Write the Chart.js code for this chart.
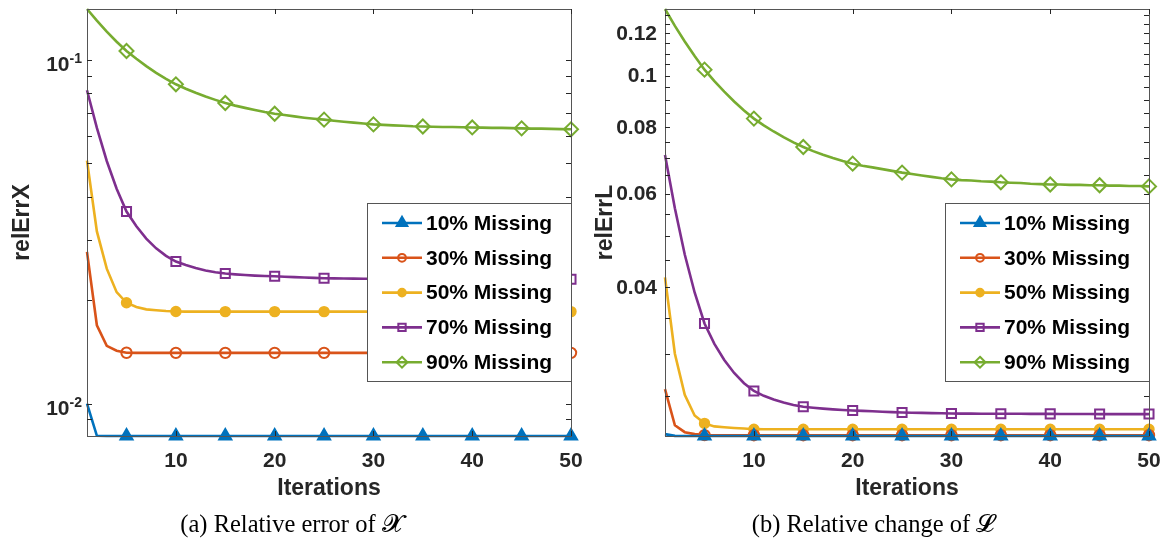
<!DOCTYPE html>
<html>
<head>
<meta charset="utf-8">
<script src="https://cdn.jsdelivr.net/npm/chart.js"></script>
<style>
  html, body { margin: 0; padding: 0; background: #fff; }
  #wrap { position: relative; width: 1164px; height: 550px; overflow: hidden; }
  canvas { position: absolute; top: 0; }
</style>
</head>
<body>
<div id="wrap">
  <canvas id="cL" width="582" height="550" style="left:0px"></canvas>
  <canvas id="cR" width="582" height="550" style="left:582px"></canvas>
</div>
<script>
// ---------------- DATA ----------------
const iterations = [1,2,3,4,5,6,7,8,9,10,11,12,13,14,15,16,17,18,19,20,21,22,23,24,25,26,27,28,29,30,31,32,33,34,35,36,37,38,39,40,41,42,43,44,45,46,47,48,49,50];
const seriesLabels = ['10% Missing','30% Missing','50% Missing','70% Missing','90% Missing'];

// relErrX (left panel)
const relErrX_10 = [0.01000,0.00806,0.00805,0.00805,0.00805,0.00805,0.00805,0.00805,0.00805,0.00805,0.00805,0.00805,0.00805,0.00805,0.00805,0.00805,0.00805,0.00805,0.00805,0.00805,0.00805,0.00805,0.00805,0.00805,0.00805,0.00805,0.00805,0.00805,0.00805,0.00805,0.00805,0.00805,0.00805,0.00805,0.00805,0.00805,0.00805,0.00805,0.00805,0.00805,0.00805,0.00805,0.00805,0.00805,0.00805,0.00805,0.00805,0.00805,0.00805,0.00805];
const relErrX_30 = [0.02764,0.01690,0.01473,0.01425,0.01406,0.01405,0.01405,0.01405,0.01405,0.01405,0.01405,0.01405,0.01405,0.01405,0.01405,0.01405,0.01405,0.01405,0.01405,0.01405,0.01405,0.01405,0.01405,0.01405,0.01405,0.01405,0.01405,0.01405,0.01405,0.01405,0.01405,0.01405,0.01405,0.01405,0.01405,0.01405,0.01405,0.01405,0.01405,0.01405,0.01405,0.01405,0.01405,0.01405,0.01405,0.01405,0.01405,0.01405,0.01405,0.01405];
const relErrX_50 = [0.0509,0.0317,0.0247,0.0211,0.01965,0.0191,0.0188,0.0187,0.0186,0.01853,0.01852,0.01852,0.01852,0.01852,0.01852,0.01852,0.01852,0.01852,0.01852,0.01852,0.01852,0.01852,0.01852,0.01852,0.01852,0.01852,0.01852,0.01852,0.01852,0.01852,0.01852,0.01852,0.01852,0.01852,0.01852,0.01852,0.01852,0.01852,0.01852,0.01852,0.01852,0.01852,0.01852,0.01852,0.01852,0.01852,0.01852,0.01852,0.01852,0.01852];
const relErrX_70 = [0.0816,0.0634,0.0508,0.0422,0.0362,0.0328,0.0302,0.0283,0.0269,0.0259,0.0253,0.0248,0.0244,0.0241,0.0239,0.02377,0.02366,0.02357,0.02351,0.02346,0.0234,0.02333,0.02327,0.02321,0.02317,0.02314,0.02312,0.0231,0.02308,0.02307,0.02306,0.02305,0.02304,0.02303,0.02303,0.02302,0.02302,0.02301,0.02301,0.02301,0.023,0.023,0.023,0.023,0.023,0.023,0.023,0.023,0.023,0.023];
const relErrX_90 = [0.1406,0.1300,0.1208,0.1129,0.1061,0.1007,0.0959,0.0917,0.0881,0.0849,0.0824,0.0802,0.0782,0.0765,0.0749,0.0736,0.0725,0.0715,0.0705,0.0697,0.0691,0.0685,0.0679,0.0674,0.0670,0.0665,0.0661,0.0657,0.0653,0.0649,0.0647,0.0645,0.0643,0.0641,0.0640,0.0639,0.0638,0.0638,0.0637,0.0636,0.0635,0.0634,0.0634,0.0633,0.0632,0.0631,0.0631,0.0630,0.0629,0.0628];

// relErrL (right panel)
const relErrL_10 = [0.02118,0.02102,0.02101,0.02101,0.02101,0.02101,0.02101,0.02101,0.02101,0.02101,0.02101,0.02101,0.02101,0.02101,0.02101,0.02101,0.02101,0.02101,0.02101,0.02101,0.02101,0.02101,0.02101,0.02101,0.02101,0.02101,0.02101,0.02101,0.02101,0.02101,0.02101,0.02101,0.02101,0.02101,0.02101,0.02101,0.02101,0.02101,0.02101,0.02101,0.02101,0.02101,0.02101,0.02101,0.02101,0.02101,0.02101,0.02101,0.02101,0.02101];
const relErrL_30 = [0.02574,0.02201,0.02136,0.02118,0.02109,0.02108,0.02108,0.02108,0.02108,0.02108,0.02108,0.02108,0.02108,0.02108,0.02108,0.02108,0.02108,0.02108,0.02108,0.02108,0.02108,0.02108,0.02108,0.02108,0.02108,0.02108,0.02108,0.02108,0.02108,0.02108,0.02108,0.02108,0.02108,0.02108,0.02108,0.02108,0.02108,0.02108,0.02108,0.02108,0.02108,0.02108,0.02108,0.02108,0.02108,0.02108,0.02108,0.02108,0.02108,0.02108];
const relErrL_50 = [0.04175,0.0300,0.0251,0.02296,0.02219,0.0219,0.02182,0.02175,0.0217,0.02164,0.02163,0.02163,0.02163,0.02163,0.02163,0.02163,0.02163,0.02163,0.02163,0.02163,0.02163,0.02163,0.02163,0.02163,0.02163,0.02163,0.02163,0.02163,0.02163,0.02163,0.02163,0.02163,0.02163,0.02163,0.02163,0.02163,0.02163,0.02163,0.02163,0.02163,0.02163,0.02163,0.02163,0.02163,0.02163,0.02163,0.02163,0.02163,0.02163,0.02163];
const relErrL_70 = [0.0709,0.0563,0.0461,0.0391,0.0342,0.0313,0.0292,0.0276,0.0264,0.02553,0.0250,0.0246,0.02428,0.02403,0.02384,0.02374,0.02365,0.02358,0.02351,0.02346,0.02342,0.02338,0.02334,0.0233,0.02326,0.02324,0.02322,0.0232,0.02318,0.02316,0.02315,0.02315,0.02314,0.02314,0.02313,0.02313,0.02313,0.02312,0.02312,0.02312,0.02311,0.02311,0.02311,0.02311,0.0231,0.0231,0.0231,0.0231,0.0231,0.0231];
const relErrL_90 = [0.1334,0.1240,0.1159,0.1088,0.1026,0.0976,0.0933,0.0894,0.0860,0.0830,0.0806,0.0785,0.0766,0.0749,0.0734,0.0721,0.0710,0.0700,0.0691,0.0683,0.0677,0.0672,0.0667,0.0662,0.0657,0.0653,0.0649,0.0645,0.0641,0.0638,0.0636,0.0635,0.0633,0.0632,0.0630,0.0629,0.0628,0.0626,0.0625,0.0624,0.0624,0.0623,0.0623,0.0622,0.0622,0.0621,0.0621,0.0620,0.0620,0.0619];

// axis ranges and ticks
const xTicks = [10,20,30,40,50];
const leftYRange = [0.00805, 0.1406];
const leftYMajor = [0.01, 0.1];
const leftYMajorExp = ['-2','-1'];
const leftYMinor = [0.009,0.02,0.03,0.04,0.05,0.06,0.07,0.08,0.09];
const rightYRange = [0.02101, 0.1334];
const rightYMajor = [0.04,0.06,0.08,0.1,0.12];
const rightYMajorLabels = ['0.04','0.06','0.08','0.1','0.12'];
const rightYMinor = [0.025,0.03,0.035,0.045,0.05,0.055,0.065,0.07,0.075,0.085,0.09,0.095,0.105,0.11,0.115,0.125,0.13];

// ---------------- STYLE ----------------
const colors = ['#0072BD','#D95319','#EDB120','#7E2F8E','#77AC30'];
const markers = [
  {style:'triangle', r:7, fill:true},
  {style:'circle', r:5.2, fill:false},
  {style:'circle', r:4.7, fill:true},
  {style:'rect', r:6.4, fill:false},
  {style:'rectRot', r:7, fill:false}
];
const legendMarkers = [
  {style:'triangle', r:6.2},
  {style:'circle', r:3.9},
  {style:'circle', r:3.8},
  {style:'rect', r:5.2},
  {style:'rectRot', r:5.4}
];
const FONT = '"Liberation Sans", Arial, Helvetica, sans-serif';
const AXC = '#262626';

function drawMarker(ctx, style, x, y, r) {
  ctx.beginPath();
  if (style === 'circle') {
    ctx.arc(x, y, r, 0, Math.PI * 2);
  } else if (style === 'triangle') {
    for (let k = 0; k < 3; k++) {
      const a = k * 2 * Math.PI / 3;
      const px = x + Math.sin(a) * r, py = y - Math.cos(a) * r;
      if (k === 0) ctx.moveTo(px, py); else ctx.lineTo(px, py);
    }
    ctx.closePath();
  } else if (style === 'rect') {
    const s = Math.SQRT1_2 * r;
    ctx.rect(x - s, y - s, 2 * s, 2 * s);
  } else if (style === 'rectRot') {
    ctx.moveTo(x, y - r); ctx.lineTo(x + r, y); ctx.lineTo(x, y + r); ctx.lineTo(x - r, y);
    ctx.closePath();
  }
}

function makeDatasets(arrs) {
  return arrs.map((vals, i) => ({
    label: seriesLabels[i],
    data: iterations.map((it, j) => ({x: it, y: vals[j]})),
    borderColor: colors[i],
    backgroundColor: colors[i],
    borderWidth: 2.6,
    tension: 0,
    fill: false,
    clip: false,
    pointStyle: markers[i].style,
    pointRadius: (c) => ((iterations[c.dataIndex] % 5) === 0 ? markers[i].r : 0),
    pointHoverRadius: 0,
    pointBorderWidth: 2,
    pointBorderColor: colors[i],
    pointBackgroundColor: markers[i].fill ? colors[i] : 'rgba(0,0,0,0)'
  }));
}

function axesPlugin(cfg) {
  return {
    id: 'matlabAxes',
    afterDatasetsDraw(chart) {
      const ctx = chart.ctx;
      const a = chart.chartArea;
      const xs = chart.scales.x, ys = chart.scales.y;
      const TL = 5;
      ctx.save();
      // box
      ctx.strokeStyle = '#555';
      ctx.lineWidth = 1;
      ctx.strokeRect(Math.round(a.left) + 0.5, Math.round(a.top) + 0.5, Math.round(a.right - a.left), Math.round(a.bottom - a.top));
      ctx.strokeStyle = AXC;
      ctx.beginPath();
      xTicks.forEach(t => {
        const px = Math.round(xs.getPixelForValue(t)) + 0.5;
        ctx.moveTo(px, a.bottom); ctx.lineTo(px, a.bottom - TL);
        ctx.moveTo(px, a.top); ctx.lineTo(px, a.top + TL);
      });
      cfg.major.concat(cfg.minor).forEach(t => {
        const py = Math.round(ys.getPixelForValue(t)) + 0.5;
        ctx.moveTo(a.left, py); ctx.lineTo(a.left + TL, py);
        ctx.moveTo(a.right, py); ctx.lineTo(a.right - TL, py);
      });
      ctx.stroke();
      // x tick labels
      ctx.fillStyle = AXC;
      ctx.font = 'bold 21px ' + FONT;
      ctx.textAlign = 'center';
      ctx.textBaseline = 'middle';
      xTicks.forEach(t => ctx.fillText(String(t), xs.getPixelForValue(t), a.bottom + 25));
      // y tick labels
      if (cfg.expLabels) {
        cfg.major.forEach((t, k) => {
          const py = ys.getPixelForValue(t);
          ctx.font = 'bold 14px ' + FONT;
          const ew = ctx.measureText(cfg.expLabels[k]).width;
          ctx.textAlign = 'left';
          ctx.textBaseline = 'alphabetic';
          const right = a.left - 5;
          ctx.fillText(cfg.expLabels[k], right - ew, py + 3);
          ctx.font = 'bold 21px ' + FONT;
          ctx.textAlign = 'right';
          ctx.fillText('10', right - ew, py + 11);
        });
      } else {
        ctx.font = 'bold 21px ' + FONT;
        ctx.textAlign = 'right';
        ctx.textBaseline = 'middle';
        cfg.major.forEach((t, k) => ctx.fillText(cfg.labels[k], a.left - 8, ys.getPixelForValue(t) + 1));
      }
      // axis titles
      ctx.font = 'bold 23px ' + FONT;
      ctx.textAlign = 'center';
      ctx.textBaseline = 'middle';
      ctx.fillText('Iterations', (a.left + a.right) / 2, a.bottom + 53);
      ctx.save();
      ctx.translate(cfg.yTitleX, (a.top + a.bottom) / 2);
      ctx.rotate(-Math.PI / 2);
      ctx.textBaseline = 'alphabetic';
      ctx.fillText(cfg.yTitle, 0, 0);
      ctx.restore();
      // legend
      const lx0 = a.right - 204, ly0 = 203, lw = 204, lh = 178;
      ctx.fillStyle = '#fff';
      ctx.fillRect(lx0, ly0, lw, lh);
      ctx.strokeStyle = '#555';
      ctx.lineWidth = 1;
      ctx.strokeRect(Math.round(lx0) + 0.5, ly0 + 0.5, lw, lh);
      chart.data.datasets.forEach((ds, i) => {
        const yy = ly0 + 20 + i * 34.8;
        const x1 = lx0 + 15, x2 = lx0 + 55;
        ctx.strokeStyle = ds.borderColor;
        ctx.lineWidth = 2.6;
        ctx.beginPath(); ctx.moveTo(x1, yy); ctx.lineTo(x2, yy); ctx.stroke();
        ctx.lineWidth = 2;
        ctx.fillStyle = ds.borderColor;
        drawMarker(ctx, legendMarkers[i].style, (x1 + x2) / 2, yy, legendMarkers[i].r);
        if (markers[i].fill) ctx.fill();
        ctx.stroke();
        ctx.fillStyle = '#000';
        ctx.font = 'bold 21px ' + FONT;
        ctx.textAlign = 'left';
        ctx.textBaseline = 'middle';
        ctx.fillText(ds.label, x2 + 4, yy + 1);
      });
      // caption
      ctx.fillStyle = '#000';
      ctx.font = '24.5px "Liberation Serif", "DejaVu Serif", serif';
      ctx.textAlign = 'center';
      ctx.textBaseline = 'middle';
      ctx.fillText(cfg.caption, 291, 526);
      ctx.restore();
    }
  };
}

function makeChart(id, arrs, yRange, pad, cfg) {
  return new Chart(document.getElementById(id), {
    type: 'line',
    data: { datasets: makeDatasets(arrs) },
    options: {
      responsive: false,
      animation: false,
      devicePixelRatio: 1,
      events: [],
      layout: { padding: pad },
      scales: {
        x: { type: 'linear', min: 1, max: 50, display: false },
        y: { type: 'logarithmic', min: yRange[0], max: yRange[1], display: false }
      },
      plugins: { legend: { display: false }, tooltip: { enabled: false } }
    },
    plugins: [axesPlugin(cfg)]
  });
}

makeChart('cL', [relErrX_10, relErrX_30, relErrX_50, relErrX_70, relErrX_90], leftYRange,
  {left: 87, right: 11, top: 1, bottom: 114},
  {major: leftYMajor, minor: leftYMinor, expLabels: leftYMajorExp, yTitle: 'relErrX', yTitleX: 29,
   caption: '(a) Relative error of 𝓧'});
makeChart('cR', [relErrL_10, relErrL_30, relErrL_50, relErrL_70, relErrL_90], rightYRange,
  {left: 83, right: 15, top: 1, bottom: 114},
  {major: rightYMajor, minor: rightYMinor, labels: rightYMajorLabels, yTitle: 'relErrL', yTitleX: 30,
   caption: '(b) Relative change of 𝓛'});
</script>
</body>
</html>
